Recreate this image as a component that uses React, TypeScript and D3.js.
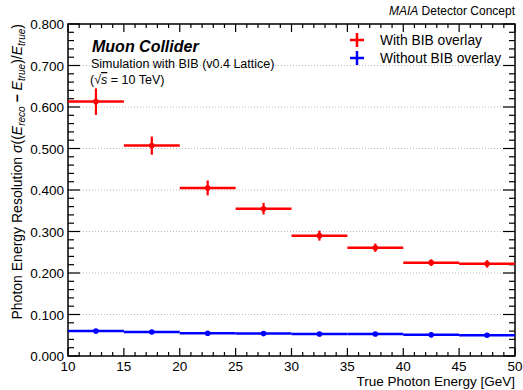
import { useEffect, useRef } from "react";
import * as d3 from "d3";

const binLow = [10, 15, 20, 25, 30, 35, 40, 45];
const binHigh = [15, 20, 25, 30, 35, 40, 45, 50];
const binCenter = [12.5, 17.5, 22.5, 27.5, 32.5, 37.5, 42.5, 47.5];
const withBib = [0.613, 0.507, 0.405, 0.355, 0.29, 0.261, 0.225, 0.222];
const withBibErr = [0.032, 0.022, 0.018, 0.014, 0.012, 0.01, 0.008, 0.009];
const noBib = [0.06, 0.058, 0.055, 0.054, 0.053, 0.053, 0.051, 0.05];
const noBibErr = [0.003, 0.003, 0.003, 0.003, 0.003, 0.003, 0.003, 0.003];
const yTicks = [0, 0.1, 0.2, 0.3, 0.4, 0.5, 0.6, 0.7, 0.8];
const xTicks = [10, 15, 20, 25, 30, 35, 40, 45, 50];

const FONT = "'Liberation Sans', Arial, sans-serif";

export default function App() {
  const svgRef = useRef<SVGSVGElement>(null);

  useEffect(() => {
    if (!svgRef.current) return;
    const width = 523;
    const height = 390;
    const m = { left: 68, right: 8, top: 24, bottom: 34 };

    const x = d3.scaleLinear().domain([10, 50]).range([m.left, width - m.right]);
    const y = d3.scaleLinear().domain([0, 0.8]).range([height - m.bottom, m.top]);

    const svg = d3.select(svgRef.current);
    svg.selectAll("*").remove();

    // grid lines
    svg
      .append("g")
      .selectAll("line")
      .data(yTicks.slice(1, -1))
      .join("line")
      .attr("x1", x(10))
      .attr("x2", x(50))
      .attr("y1", (d) => y(d))
      .attr("y2", (d) => y(d))
      .attr("stroke", "#bbb")
      .attr("stroke-width", 1)
      .attr("stroke-dasharray", "1,2");

    // ticks on all four sides
    const ax = svg.append("g").attr("stroke", "#000").attr("stroke-width", 1.2);
    const yMinor = d3.range(0, 0.8001, 0.02);
    yMinor.forEach((v) => {
      const major = Math.abs(v * 10 - Math.round(v * 10)) < 1e-6;
      const len = major ? 12 : 6;
      ax.append("line").attr("x1", x(10)).attr("x2", x(10) + len).attr("y1", y(v)).attr("y2", y(v));
      ax.append("line").attr("x1", x(50)).attr("x2", x(50) - len).attr("y1", y(v)).attr("y2", y(v));
    });
    d3.range(10, 50.001, 1).forEach((v) => {
      const major = v % 5 === 0;
      const len = major ? 8 : 4;
      ax.append("line").attr("x1", x(v)).attr("x2", x(v)).attr("y1", y(0)).attr("y2", y(0) - len);
      ax.append("line").attr("x1", x(v)).attr("x2", x(v)).attr("y1", y(0.8)).attr("y2", y(0.8) + len);
    });

    svg
      .append("rect")
      .attr("x", x(10))
      .attr("y", y(0.8))
      .attr("width", x(50) - x(10))
      .attr("height", y(0) - y(0.8))
      .attr("fill", "none")
      .attr("stroke", "#000")
      .attr("stroke-width", 1.5);

    // tick labels
    svg
      .append("g")
      .selectAll("text")
      .data(yTicks)
      .join("text")
      .attr("x", x(10) - 4)
      .attr("y", (d) => y(d) + 5)
      .attr("text-anchor", "end")
      .attr("font-size", 13.5)
      .attr("font-family", FONT)
      .text((d) => d.toFixed(3));
    svg
      .append("g")
      .selectAll("text")
      .data(xTicks)
      .join("text")
      .attr("x", (d) => x(d))
      .attr("y", y(0) + 15)
      .attr("text-anchor", "middle")
      .attr("font-size", 13.5)
      .attr("font-family", FONT)
      .text((d) => d);

    // series
    const drawSeries = (vals: number[], errs: number[], color: string) => {
      const g = svg.append("g").attr("stroke", color).attr("fill", color);
      vals.forEach((v, i) => {
        g.append("line")
          .attr("x1", x(binLow[i]))
          .attr("x2", x(binHigh[i]))
          .attr("y1", y(v))
          .attr("y2", y(v))
          .attr("stroke-width", 2.5);
        g.append("line")
          .attr("x1", x(binCenter[i]))
          .attr("x2", x(binCenter[i]))
          .attr("y1", y(v - errs[i]))
          .attr("y2", y(v + errs[i]))
          .attr("stroke-width", 2.2);
        g.append("circle").attr("cx", x(binCenter[i])).attr("cy", y(v)).attr("r", 2.8).attr("stroke", "none");
      });
    };
    drawSeries(withBib, withBibErr, "#ff0000");
    drawSeries(noBib, noBibErr, "#0000ff");

    // legend
    const legend = [
      { label: "With BIB overlay", color: "#ff0000" },
      { label: "Without BIB overlay", color: "#0000ff" },
    ];
    legend.forEach((l, i) => {
      const cy = 40 + i * 18;
      const cx = 357;
      const g = svg.append("g").attr("stroke", l.color).attr("stroke-width", 2.5);
      g.append("line").attr("x1", cx - 7).attr("x2", cx + 7).attr("y1", cy).attr("y2", cy);
      g.append("line").attr("x1", cx).attr("x2", cx).attr("y1", cy - 7).attr("y2", cy + 7);
      svg
        .append("text")
        .attr("x", 380)
        .attr("y", cy + 5)
        .attr("font-size", 13.8)
        .attr("font-family", FONT)
        .text(l.label);
    });

    // annotations
    svg
      .append("text")
      .attr("x", 92)
      .attr("y", 52)
      .attr("font-size", 16)
      .attr("font-weight", "bold")
      .attr("font-style", "italic")
      .attr("font-family", FONT)
      .text("Muon Collider");
    svg
      .append("text")
      .attr("x", 91)
      .attr("y", 68)
      .attr("font-size", 12.5)
      .attr("font-family", FONT)
      .text("Simulation with BIB (v0.4 Lattice)");
    const t3 = svg
      .append("text")
      .attr("x", 90)
      .attr("y", 84)
      .attr("font-size", 12.5)
      .attr("font-family", FONT);
    t3.append("tspan").text("(√");
    t3.append("tspan").attr("font-style", "italic").attr("text-decoration", "overline").text("s");
    t3.append("tspan").text(" = 10 TeV)");

    const top = svg
      .append("text")
      .attr("x", x(50))
      .attr("y", 15)
      .attr("text-anchor", "end")
      .attr("font-size", 12)
      .attr("font-family", FONT);
    top.append("tspan").attr("font-style", "italic").text("MAIA");
    top.append("tspan").text(" Detector Concept");

    // axis titles
    svg
      .append("text")
      .attr("x", x(50))
      .attr("y", 386)
      .attr("text-anchor", "end")
      .attr("font-size", 13.5)
      .attr("font-family", FONT)
      .text("True Photon Energy [GeV]");

    const yl = svg
      .append("text")
      .attr("transform", `translate(22,${y(0.8)}) rotate(-90)`)
      .attr("text-anchor", "end")
      .attr("font-size", 14)
      .attr("font-family", FONT);
    yl.append("tspan").text("Photon Energy Resolution ");
    yl.append("tspan").attr("font-style", "italic").text("σ");
    yl.append("tspan").text("((");
    yl.append("tspan").attr("font-style", "italic").text("E");
    yl.append("tspan").attr("font-style", "italic").attr("font-size", 10).attr("dy", 3).text("reco");
    yl.append("tspan").attr("dy", -3).attr("font-weight", "bold").text(" − ");
    yl.append("tspan").attr("font-style", "italic").text("E");
    yl.append("tspan").attr("font-style", "italic").attr("font-size", 10).attr("dy", 3).text("true");
    yl.append("tspan").attr("dy", -3).text(")/");
    yl.append("tspan").attr("font-style", "italic").text("E");
    yl.append("tspan").attr("font-style", "italic").attr("font-size", 10).attr("dy", 3).text("true");
    yl.append("tspan").attr("dy", -3).text(")");
  }, []);

  return (
    <div style={{ position: "absolute", left: 0, top: 0 }}>
      <svg ref={svgRef} width={523} height={390} style={{ display: "block", background: "#fff" }} />
    </div>
  );
}
